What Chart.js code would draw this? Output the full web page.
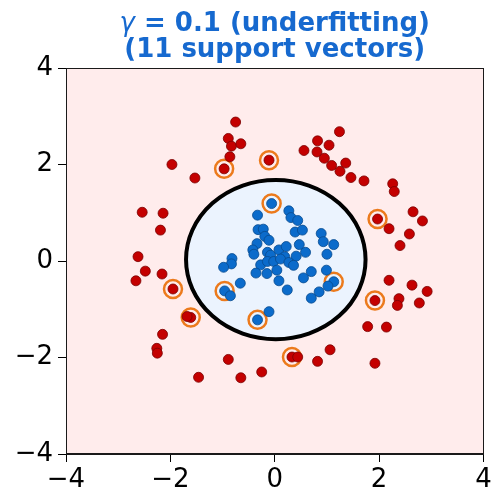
<!DOCTYPE html>
<html>
<head>
<meta charset="utf-8">
<script src="https://cdn.jsdelivr.net/npm/chart.js@4/dist/chart.umd.min.js"></script>
<style>
  html, body { margin: 0; padding: 0; background: #ffffff; }
  #wrap { width: 495px; height: 487px; }
</style>
</head>
<body>
<div id="wrap"><canvas id="c" width="495" height="487"></canvas></div>
<script>
// Outer ring class (red)
const redX = [-0.75, -0.89, -0.83, -0.65, -0.86, -1.97, -0.97, -0.11, -1.53, -2.54,
              -2.14, -2.19, -2.62, -2.48, -2.66, -2.16, -1.95, -1.61, -1.68, -2.15,
              -2.26, -2.25, -0.89, -1.46, -0.65, -0.25, 1.24, 0.82, 1.04, 0.56,
              0.81, 0.95, 1.09, 1.36, 1.25, 1.46, 1.71, 2.26, 2.29, 1.97,
              2.65, 2.83, 2.19, 2.58, 2.40, 2.19, 2.63, 2.92, 2.38, 2.35,
              2.77, 1.92, 1.78, 2.14, 1.06, 0.33, 0.44, 0.82, 1.92];
const redY = [2.88, 2.54, 2.38, 2.43, 2.16, 2.00, 1.91, 2.09, 1.72, 1.01,
              0.99, 0.64, 0.09, -0.21, -0.41, -0.27, -0.58, -1.17, -1.15, -1.52,
              -1.81, -1.91, -2.04, -2.41, -2.42, -2.30, 2.68, 2.49, 2.40, 2.29,
              2.26, 2.13, 1.98, 2.03, 1.86, 1.73, 1.66, 1.60, 1.44, 0.87,
              1.02, 0.83, 0.67, 0.56, 0.32, -0.40, -0.50, -0.63, -0.78, -0.92,
              -0.87, -0.82, -1.36, -1.37, -1.84, -1.99, -1.99, -2.08, -2.12];

// Inner cluster class (blue)
const blueX = [-0.06, -0.33, -0.32, -0.22, -0.19, -0.11, -0.34, -0.42, -0.40, -0.14,
               -0.08, 0.08, -0.82, -0.83, -0.98, 0.27, 0.31, 0.44, 0.39, 0.53,
               0.89, 0.93, 1.13, 0.47, 0.22, 0.59, 1.00, 0.41, 0.19, -0.27,
               -0.14, -0.02, 0.11, -0.36, -0.15, 0.04, 0.08, -0.66, -0.96, -0.85,
               -0.11, -0.33, 0.27, 0.36, 0.70, 0.55, 0.99, 0.24, 1.13, 1.02,
               0.85, 0.70];
const blueY = [1.19, 0.95, 0.65, 0.66, 0.51, 0.43, 0.36, 0.23, 0.14, 0.18,
               0.12, 0.23, 0.05, -0.06, -0.13, 1.04, 0.90, 0.84, 0.60, 0.64,
               0.57, 0.40, 0.34, 0.34, 0.30, 0.18, 0.14, 0.10, 0.09, -0.08,
               -0.01, -0.01, 0.04, -0.25, -0.26, -0.19, -0.41, -0.46, -0.62, -0.72,
               -1.05, -1.22, -0.03, -0.09, -0.22, -0.35, -0.19, -0.60, -0.43, -0.52,
               -0.64, -0.77];

// Support vectors (11)
const svX = [-0.97, -0.11, 1.97, -1.95, -1.61, 1.92, 0.33, -0.06, 1.13, -0.96, -0.33];
const svY = [1.91, 2.09, 0.87, -0.58, -1.17, -0.82, -1.99, 1.19, -0.43, -0.62, -1.22];

// Decision boundary (closed contour) parameters
const boundaryCenter = [0.02, 0.03];
const boundaryRadii = [1.72, 1.65];

const tickValues = [-4, -2, 0, 2, 4];
const tickLabels = ['\u22124', '\u22122', '0', '2', '4'];

const titleLine1Symbol = '\u03B3';
const titleLine1Rest = ' = 0.1 (underfitting)';
const titleLine2 = '(11 support vectors)';

const toPoints = (xs, ys) => xs.map((x, i) => ({ x: x, y: ys[i] }));

const regionPlugin = {
  id: 'regions',
  beforeDatasetsDraw(chart) {
    const { ctx, chartArea: a, scales: { x, y } } = chart;
    ctx.save();
    ctx.beginPath();
    ctx.rect(a.left, a.top, a.right - a.left, a.bottom - a.top);
    ctx.clip();
    ctx.fillStyle = '#ffecec';
    ctx.fillRect(a.left, a.top, a.right - a.left, a.bottom - a.top);
    const cx = x.getPixelForValue(boundaryCenter[0]);
    const cy = y.getPixelForValue(boundaryCenter[1]);
    const rx = x.getPixelForValue(boundaryCenter[0] + boundaryRadii[0]) - cx;
    const ry = cy - y.getPixelForValue(boundaryCenter[1] + boundaryRadii[1]);
    ctx.beginPath();
    ctx.ellipse(cx, cy, rx, ry, 0, 0, Math.PI * 2);
    ctx.fillStyle = '#ebf3fe';
    ctx.fill();
    ctx.lineWidth = 4;
    ctx.strokeStyle = '#000000';
    ctx.stroke();
    ctx.restore();
  },
  afterDatasetsDraw(chart) {
    const { ctx, chartArea: a } = chart;
    ctx.save();
    ctx.strokeStyle = '#1a1a1a';
    ctx.lineWidth = 1;
    ctx.strokeRect(Math.round(a.left) + 0.5, Math.round(a.top) + 0.5,
                   Math.round(a.right - a.left) - 1, Math.round(a.bottom - a.top) - 1);
    ctx.restore();
  }
};

const titlePlugin = {
  id: 'twoLineTitle',
  afterDraw(chart) {
    const { ctx, chartArea: a } = chart;
    const cx = (a.left + a.right) / 2;
    ctx.save();
    ctx.fillStyle = '#1669cf';
    ctx.textBaseline = 'middle';
    ctx.textAlign = 'left';
    const symFont = 'oblique 26px "DejaVu Sans"';
    const boldFont = 'bold 26px "DejaVu Sans"';
    ctx.font = symFont;
    const w1 = ctx.measureText(titleLine1Symbol).width;
    ctx.font = boldFont;
    const w2 = ctx.measureText(titleLine1Rest).width;
    const x0 = cx - (w1 + w2) / 2;
    ctx.font = symFont;
    ctx.fillText(titleLine1Symbol, x0, 24);
    ctx.font = boldFont;
    ctx.fillText(titleLine1Rest, x0 + w1, 24);
    ctx.textAlign = 'center';
    ctx.fillText(titleLine2, cx, 50);
    ctx.restore();
  }
};

const axisCommon = {
  type: 'linear',
  min: -4,
  max: 4,
  afterBuildTicks(scale) { scale.ticks = tickValues.map(v => ({ value: v })); },
  grid: { display: true, drawOnChartArea: false, drawTicks: true, tickLength: 8, color: '#000000', lineWidth: 1 },
  border: { display: true, color: '#1a1a1a', width: 1 },
  ticks: {
    font: { family: '"DejaVu Sans"', size: 26 },
    color: '#000000',
    autoSkip: false,
    maxRotation: 0,
    callback(value) {
      const i = tickValues.indexOf(value);
      return i >= 0 ? tickLabels[i] : '';
    }
  }
};

new Chart(document.getElementById('c'), {
  type: 'scatter',
  data: {
    datasets: [
      {
        label: 'outer',
        data: toPoints(redX, redY),
        pointRadius: 5,
        pointHoverRadius: 5,
        backgroundColor: '#c40000',
        borderColor: '#7a0000',
        borderWidth: 0.8
      },
      {
        label: 'inner',
        data: toPoints(blueX, blueY),
        pointRadius: 5,
        pointHoverRadius: 5,
        backgroundColor: '#0b6bcb',
        borderColor: '#074a8e',
        borderWidth: 0.8
      },
      {
        label: 'support vectors',
        data: toPoints(svX, svY),
        pointRadius: 9,
        pointHoverRadius: 9,
        backgroundColor: 'rgba(0,0,0,0)',
        borderColor: '#ec7a1c',
        borderWidth: 2.5
      }
    ]
  },
  options: {
    responsive: false,
    animation: false,
    devicePixelRatio: 1,
    layout: { padding: { top: 68, right: 6, left: 0, bottom: 0 } },
    plugins: { legend: { display: false }, title: { display: false }, tooltip: { enabled: false } },
    scales: {
      x: Object.assign({}, axisCommon, {
        position: 'bottom',
        afterFit(s) { s.height = 33; },
        ticks: Object.assign({}, axisCommon.ticks, { padding: 3 })
      }),
      y: Object.assign({}, axisCommon, {
        position: 'left',
        afterFit(s) { s.width = 66; },
        ticks: Object.assign({}, axisCommon.ticks, { padding: 5 })
      })
    }
  },
  plugins: [regionPlugin, titlePlugin]
});
</script>
</body>
</html>
